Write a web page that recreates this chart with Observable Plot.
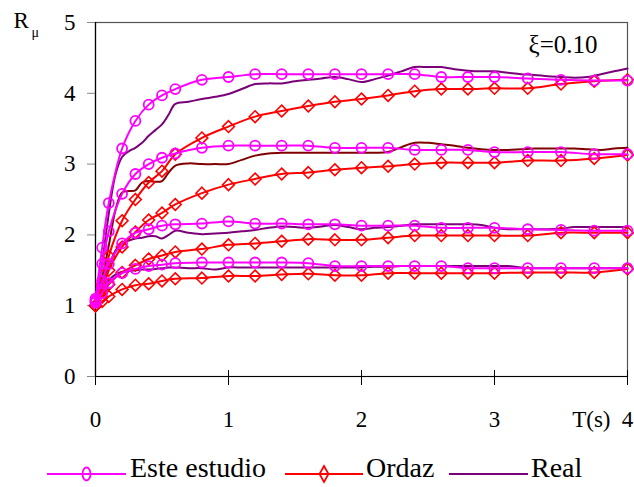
<!DOCTYPE html>
<html>
<head>
<meta charset="utf-8">
<script src="https://cdn.jsdelivr.net/npm/d3@7"></script>
<script src="https://cdn.jsdelivr.net/npm/@observablehq/plot@0.6"></script>
<style>
  html, body { margin: 0; padding: 0; background: #fff; }
  #chart svg { display: block; }
  #legend svg { display: block; }
</style>
</head>
<body>
<div id="chart"></div>
<div id="legend"></div>
<script>
// Periods (s) at which the marked spectra are given
const periods = [0, 0.05, 0.1, 0.2, 0.3, 0.4, 0.5, 0.6, 0.8, 1.0, 1.2, 1.4, 1.6, 1.8, 2.0, 2.2, 2.4, 2.6, 2.8, 3.0, 3.25, 3.5, 3.75, 4.0];

// "Este estudio" reduction factors, one array per ductility level
const estudioMu15 = [1.04, 1.18, 1.32, 1.46, 1.52, 1.56, 1.58, 1.60, 1.61, 1.61, 1.61, 1.61, 1.60, 1.56, 1.56, 1.56, 1.56, 1.56, 1.53, 1.53, 1.53, 1.53, 1.53, 1.53];
const estudioMu2  = [1.06, 1.35, 1.59, 1.88, 2.03, 2.08, 2.13, 2.15, 2.16, 2.19, 2.16, 2.16, 2.15, 2.15, 2.13, 2.13, 2.13, 2.10, 2.10, 2.10, 2.08, 2.07, 2.06, 2.06];
const estudioMu3  = [1.08, 1.59, 2.05, 2.58, 2.86, 3.00, 3.09, 3.15, 3.23, 3.26, 3.26, 3.26, 3.26, 3.23, 3.23, 3.23, 3.20, 3.20, 3.20, 3.17, 3.17, 3.17, 3.14, 3.14];
const estudioMu4  = [1.10, 1.82, 2.45, 3.22, 3.61, 3.84, 3.97, 4.06, 4.19, 4.23, 4.27, 4.27, 4.27, 4.27, 4.27, 4.27, 4.27, 4.23, 4.23, 4.23, 4.21, 4.19, 4.18, 4.18];

// Ordaz reduction factors
const ordazMu15 = [1.00, 1.06, 1.13, 1.23, 1.29, 1.31, 1.35, 1.38, 1.39, 1.42, 1.42, 1.44, 1.45, 1.43, 1.43, 1.46, 1.46, 1.46, 1.46, 1.46, 1.47, 1.47, 1.47, 1.52];
const ordazMu2  = [1.00, 1.12, 1.30, 1.47, 1.57, 1.66, 1.71, 1.76, 1.80, 1.86, 1.88, 1.91, 1.94, 1.93, 1.93, 1.96, 1.99, 1.99, 1.99, 1.99, 1.99, 2.03, 2.03, 2.03];
const ordazMu3  = [1.00, 1.20, 1.50, 1.83, 2.04, 2.21, 2.31, 2.43, 2.59, 2.71, 2.79, 2.86, 2.88, 2.92, 2.95, 2.97, 3.00, 3.02, 3.02, 3.02, 3.05, 3.05, 3.08, 3.13];
const ordazMu4  = [1.00, 1.30, 1.70, 2.20, 2.50, 2.74, 2.90, 3.14, 3.37, 3.53, 3.67, 3.75, 3.82, 3.88, 3.92, 3.97, 4.03, 4.06, 4.06, 4.07, 4.07, 4.13, 4.17, 4.19];

// Periods (s) of the "Real" spectra
const realPeriods = [0, 0.05, 0.1, 0.15, 0.2, 0.25, 0.3, 0.35, 0.4, 0.45, 0.5, 0.55, 0.6,
  0.7, 0.8, 0.9, 1.0, 1.1, 1.2, 1.3, 1.4, 1.5, 1.6, 1.7, 1.8, 1.9, 2.0, 2.1, 2.2, 2.3, 2.4,
  2.5, 2.6, 2.7, 2.8, 2.9, 3.0, 3.1, 3.2, 3.3, 3.4, 3.5, 3.6, 3.7, 3.8, 3.9, 4.0];

const realMu15 = [1.00, 1.20, 1.36, 1.44, 1.48, 1.49, 1.50, 1.51, 1.51, 1.52, 1.53, 1.54, 1.54,
  1.53, 1.53, 1.51, 1.54, 1.54, 1.54, 1.54, 1.54, 1.54, 1.54, 1.54, 1.54, 1.54, 1.54, 1.55, 1.55, 1.56, 1.56,
  1.56, 1.56, 1.56, 1.56, 1.56, 1.56, 1.56, 1.54, 1.53, 1.53, 1.53, 1.53, 1.53, 1.53, 1.53, 1.53];
const realMu2 = [1.00, 1.30, 1.55, 1.78, 1.88, 1.92, 1.95, 1.96, 1.98, 1.98, 1.95, 2.00, 2.06,
  2.03, 2.01, 2.02, 2.03, 2.05, 2.07, 2.10, 2.12, 2.11, 2.10, 2.12, 2.14, 2.11, 2.08, 2.10, 2.11, 2.13, 2.15,
  2.15, 2.15, 2.15, 2.15, 2.14, 2.10, 2.08, 2.08, 2.08, 2.08, 2.09, 2.11, 2.11, 2.11, 2.11, 2.11];
const realMu3 = [1.00, 1.40, 1.85, 2.35, 2.60, 2.62, 2.63, 2.74, 2.76, 2.75, 2.76, 2.88, 2.98,
  3.01, 3.00, 3.00, 3.00, 3.06, 3.12, 3.15, 3.16, 3.16, 3.16, 3.16, 3.16, 3.16, 3.16, 3.16, 3.17, 3.24, 3.30,
  3.30, 3.28, 3.26, 3.23, 3.21, 3.20, 3.20, 3.21, 3.22, 3.22, 3.22, 3.22, 3.21, 3.20, 3.22, 3.23];
const realMu4 = [1.00, 1.60, 2.30, 2.85, 3.10, 3.18, 3.23, 3.30, 3.40, 3.48, 3.56, 3.70, 3.85,
  3.88, 3.92, 3.95, 3.99, 4.06, 4.13, 4.14, 4.14, 4.17, 4.19, 4.21, 4.23, 4.20, 4.16, 4.20, 4.25, 4.31, 4.37,
  4.37, 4.37, 4.34, 4.32, 4.31, 4.31, 4.29, 4.27, 4.26, 4.24, 4.23, 4.22, 4.23, 4.27, 4.31, 4.35];

const xTicks = [0, 1, 2, 3, 4];
const yTicks = [0, 1, 2, 3, 4, 5];
const legendLabels = ["Este estudio", "Ordaz", "Real"];

const FONT = "'Liberation Serif', 'Times New Roman', serif";
const MAGENTA = "#ff00ff", RED = "#ff0000", PURPLE = "#7a0078", MAROON = "#800000";

// Long-format rows, one per point, tagged by curve
function rows(ts, values, curve) {
  return ts.map((t, i) => ({T: t, R: values[i], curve}));
}
const estudioRows = [
  ...rows(periods, estudioMu15, "e1.5"), ...rows(periods, estudioMu2, "e2"),
  ...rows(periods, estudioMu3, "e3"), ...rows(periods, estudioMu4, "e4")
];
const ordazRows = [
  ...rows(periods, ordazMu15, "o1.5"), ...rows(periods, ordazMu2, "o2"),
  ...rows(periods, ordazMu3, "o3"), ...rows(periods, ordazMu4, "o4")
];
const realPurpleRows = [
  ...rows(realPeriods, realMu15, "r1.5"), ...rows(realPeriods, realMu2, "r2"),
  ...rows(realPeriods, realMu4, "r4")
];
const realMaroonRows = rows(realPeriods, realMu3, "r3");

const intFormat = d3.format("d");

const chart = Plot.plot({
  width: 634,
  height: 445,
  marginLeft: 95,
  marginRight: 7,
  marginTop: 22,
  marginBottom: 69,
  style: {fontSize: "23px", color: "#000", background: "#fff"},
  x: {domain: [0, 4]},
  y: {domain: [0, 5]},
  marks: [
    Plot.frame({stroke: "#555", strokeWidth: 1.2}),
    // y axis: short grey outward ticks with labels
    Plot.axisY({ticks: yTicks, tickFormat: intFormat, tickSize: 8, tickPadding: 12, stroke: "#888", fontSize: 23, label: null}),
    // x axis: ticks crossing the base line, labels set lower
    Plot.axisX({ticks: xTicks, tickSize: 15, dy: -6, tickFormat: () => "", label: null, stroke: "#000"}),
    Plot.axisX({ticks: xTicks, tickFormat: intFormat, tickSize: 0, tickPadding: 34, fontSize: 23, label: null}),
    Plot.ruleX([0], {stroke: "#000", strokeWidth: 1.2}),
    Plot.ruleY([0], {stroke: "#000", strokeWidth: 1.2}),
    // Real spectra
    Plot.line(realPurpleRows, {x: "T", y: "R", z: "curve", stroke: PURPLE, strokeWidth: 2, curve: "catmull-rom"}),
    Plot.line(realMaroonRows, {x: "T", y: "R", z: "curve", stroke: MAROON, strokeWidth: 2, curve: "catmull-rom"}),
    // Ordaz
    Plot.line(ordazRows, {x: "T", y: "R", z: "curve", stroke: RED, strokeWidth: 2, curve: "catmull-rom"}),
    Plot.dot(ordazRows, {x: "T", y: "R", symbol: "diamond2", r: 5.3, stroke: RED, strokeWidth: 1.6, fill: "none"}),
    // Este estudio
    Plot.line(estudioRows, {x: "T", y: "R", z: "curve", stroke: MAGENTA, strokeWidth: 2, curve: "catmull-rom"}),
    Plot.dot(estudioRows, {x: "T", y: "R", symbol: "circle", r: 5, stroke: MAGENTA, strokeWidth: 1.8, fill: "none"}),
    // axis titles and damping note
    Plot.text(["T(s)"], {frameAnchor: "bottom-right", lineAnchor: "middle", dx: -17, dy: 43, textAnchor: "end", fontSize: 23}),
    Plot.text(["R"], {frameAnchor: "top-left", lineAnchor: "middle", dx: -82, dy: -2, textAnchor: "start", fontSize: 23}),
    Plot.text(["\u03bc"], {frameAnchor: "top-left", lineAnchor: "middle", dx: -64, dy: 10, textAnchor: "start", fontSize: 14}),
    Plot.text(["\u03be=0.10"], {frameAnchor: "top-right", lineAnchor: "middle", dx: -30, dy: 22, textAnchor: "end", fontSize: 25})
  ]
});
document.getElementById("chart").appendChild(chart);

// Legend below the chart
const legend = d3.select("#legend").append("svg")
  .attr("width", 634).attr("height", 42);
const ly = 29;
const items = [
  {label: legendLabels[0], color: MAGENTA, x0: 47, x1: 126, marker: "circle", tx: 130},
  {label: legendLabels[1], color: RED, x0: 285, x1: 363, marker: "diamond", tx: 366},
  {label: legendLabels[2], color: PURPLE, x0: 449, x1: 528, marker: null, tx: 531}
];
for (const it of items) {
  legend.append("line").attr("x1", it.x0).attr("x2", it.x1).attr("y1", ly).attr("y2", ly)
    .attr("stroke", it.color).attr("stroke-width", 2.2);
  const cx = (it.x0 + it.x1) / 2;
  if (it.marker === "circle") {
    legend.append("ellipse").attr("cx", cx).attr("cy", ly).attr("rx", 4).attr("ry", 6.5)
      .attr("fill", "none").attr("stroke", it.color).attr("stroke-width", 1.8);
  } else if (it.marker === "diamond") {
    legend.append("path").attr("d", `M${cx},${ly - 8}L${cx + 4.5},${ly}L${cx},${ly + 8}L${cx - 4.5},${ly}Z`)
      .attr("fill", "none").attr("stroke", it.color).attr("stroke-width", 1.8);
  }
  legend.append("text").attr("x", it.tx).attr("y", ly + 3)
    .style("font-size", "28px")
    .attr("fill", "#000").text(it.label);
}

// serif lettering for every label in the chart and the legend
document.querySelectorAll("svg, svg g, svg text").forEach(el => {
  el.removeAttribute("font-family");
  el.style.setProperty("font-family", FONT, "important");
});
</script>
</body>
</html>
